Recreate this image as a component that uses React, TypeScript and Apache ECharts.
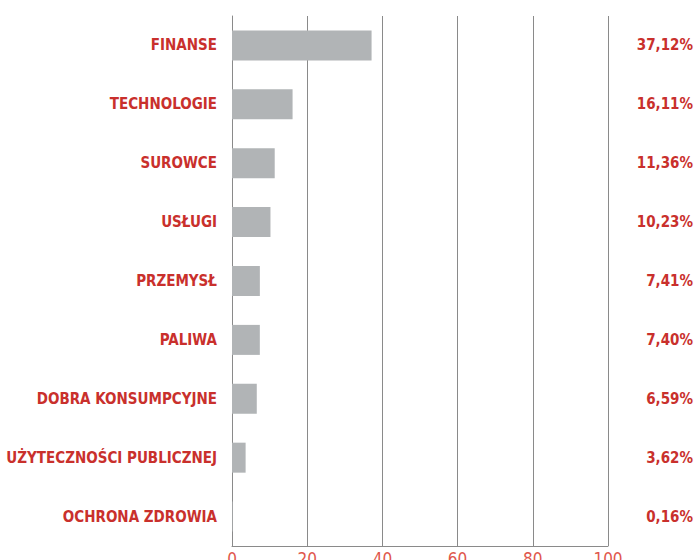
import React, { useEffect, useRef } from "react";
import * as echarts from "echarts";

const categories = [
  "FINANSE",
  "TECHNOLOGIE",
  "SUROWCE",
  "USŁUGI",
  "PRZEMYSŁ",
  "PALIWA",
  "DOBRA KONSUMPCYJNE",
  "UŻYTECZNOŚCI PUBLICZNEJ",
  "OCHRONA ZDROWIA",
];
const values = [37.12, 16.11, 11.36, 10.23, 7.41, 7.4, 6.59, 3.62, 0.16];
const valueLabels = values.map((v) => v.toFixed(2).replace(".", ",") + "%");

const RED = "#c9302c";
const FONT = "'DejaVu Sans Condensed', 'Liberation Sans Narrow', sans-serif";

export default function App() {
  const ref = useRef<HTMLDivElement>(null);
  useEffect(() => {
    if (!ref.current) return;
    const chart = echarts.init(ref.current, null, { renderer: "svg" });
    chart.setOption({
      animation: false,
      backgroundColor: "#ffffff",
      grid: {
        left: 232,
        right: 88,
        top: 16,
        bottom: 14,
        containLabel: false,
        outerBoundsMode: "none",
      },
      xAxis: {
        type: "value",
        min: 0,
        max: 100,
        interval: 20,
        axisLine: { show: true, lineStyle: { color: "#8a8a8a", width: 1 } },
        axisTick: { show: false },
        splitLine: { show: true, lineStyle: { color: "#8a8a8a", width: 1 } },
        axisLabel: {
          color: "#e0574c",
          fontFamily: FONT,
          fontSize: 17,
          margin: 4,
        },
      },
      yAxis: [
        {
          type: "category",
          data: categories,
          inverse: true,
          axisLine: { show: true, lineStyle: { color: "#8a8a8a", width: 1 } },
          axisTick: { show: false },
          axisLabel: {
            color: RED,
            fontFamily: FONT,
            fontWeight: "bold",
            fontSize: 15,
            margin: 15,
          },
        },
        {
          type: "category",
          data: valueLabels,
          inverse: true,
          position: "right",
          axisLine: { show: false },
          axisTick: { show: false },
          splitLine: { show: false },
          axisLabel: {
            color: RED,
            fontFamily: FONT,
            fontWeight: "bold",
            fontSize: 15,
            align: "right",
            margin: 85,
          },
        },
      ],
      series: [
        {
          type: "bar",
          data: values,
          yAxisIndex: 0,
          barWidth: 30,
          itemStyle: { color: "#b1b4b6" },
        },
      ],
    });
    return () => chart.dispose();
  }, []);
  return (
    <div
      ref={ref}
      style={{ position: "absolute", left: 0, top: 0, width: 696, height: 560 }}
    />
  );
}
